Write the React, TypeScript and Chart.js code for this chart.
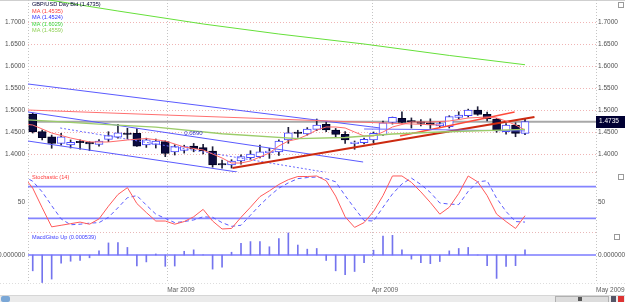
import React, { useEffect, useRef } from 'react';
import { Chart, registerables } from 'chart.js';

Chart.register(...registerables);

const FONT = "'Liberation Sans Narrow', 'Liberation Sans', Arial, sans-serif";
const AXIS_COLOR = '#505050';

// ---------- x layout (trading-day index) ----------
const xMin = -0.5;
const xMax = 59.5;
const xGridPos = [-0.5, 14.2, 35.8, 59.5];
const monthTickPos = [14.2, 35.8, 59.5];
const monthLabels = ['Mar 2009', 'Apr 2009', 'May 2009'];

// ---------- price panel ----------
const priceMin = 1.3591;
const priceMax = 1.75;
const priceTicks = [1.4, 1.45, 1.5, 1.55, 1.6, 1.65, 1.7];
const lastPrice = 1.4735;

const opens = [1.4909,1.4507,1.4393,1.4243,1.4205,1.4265,1.4250,1.4220,1.4333,1.4380,1.4450,1.4470,1.4205,1.4220,1.4280,1.4050,1.4080,1.4182,1.4144,1.4068,1.3755,1.3750,1.3840,1.3916,1.3940,1.4030,1.4050,1.4318,1.4470,1.4455,1.4560,1.4675,1.4545,1.4447,1.4236,1.4257,1.4318,1.4432,1.4720,1.4810,1.4740,1.4734,1.4711,1.4640,1.4620,1.4834,1.4870,1.5000,1.4902,1.4795,1.4507,1.4660,1.4470];
const highs = [1.4930,1.4545,1.4430,1.4470,1.4320,1.4320,1.4280,1.4330,1.4507,1.4675,1.4584,1.4580,1.4360,1.4340,1.4300,1.4210,1.4200,1.4240,1.4220,1.4166,1.3860,1.3870,1.3980,1.4075,1.4200,1.4130,1.4320,1.4606,1.4540,1.4600,1.4795,1.4735,1.4580,1.4507,1.4295,1.4360,1.4500,1.4750,1.4840,1.4960,1.4820,1.4780,1.4800,1.4740,1.4870,1.4960,1.5020,1.5075,1.4950,1.4810,1.4690,1.4710,1.4800];
const lows = [1.4477,1.4320,1.4130,1.4200,1.4136,1.4110,1.4075,1.4180,1.4280,1.4360,1.4340,1.4170,1.4150,1.4136,1.3940,1.3977,1.4020,1.4050,1.4000,1.3700,1.3680,1.3680,1.3770,1.3880,1.3910,1.3900,1.3970,1.4243,1.4380,1.4430,1.4530,1.4507,1.4380,1.4243,1.4107,1.4230,1.4250,1.4420,1.4680,1.4700,1.4590,1.4640,1.4580,1.4600,1.4590,1.4800,1.4840,1.4880,1.4750,1.4493,1.4450,1.4393,1.4440];
const closes = [1.4500,1.4370,1.4243,1.4393,1.4266,1.4255,1.4230,1.4295,1.4416,1.4484,1.4444,1.4180,1.4320,1.4295,1.4015,1.4166,1.4170,1.4114,1.4068,1.3750,1.3750,1.3840,1.3940,1.4000,1.4050,1.4030,1.4295,1.4484,1.4465,1.4568,1.4660,1.4545,1.4447,1.4318,1.4250,1.4334,1.4470,1.4711,1.4834,1.4720,1.4728,1.4697,1.4660,1.4690,1.4848,1.4886,1.5000,1.4902,1.4795,1.4523,1.4660,1.4470,1.4735];

// moving averages (index, value)
const maRedIdx = [-1,0,2,4,6,8,10,12,14,16,18,20,21,22,23,24,25,26,27,28,29,30,31,32,33,34,35,36,37,38,40,42,44,46,48,49,50,51,52];
const maRedVals = [1.468,1.4659,1.4477,1.4364,1.4273,1.4273,1.4318,1.4352,1.4295,1.4159,1.4091,1.3909,1.3795,1.3795,1.3841,1.3932,1.4023,1.4182,1.4295,1.4341,1.4432,1.4545,1.4614,1.4614,1.4591,1.45,1.4409,1.4409,1.45,1.4614,1.4727,1.4727,1.475,1.4818,1.4841,1.4818,1.475,1.4659,1.4545];
const maBlueIdx = [35,40,45,52];
const maBlueVals = [1.4568,1.456,1.4545,1.4524];
const maLongIdx = [-1,0,9,18,26,35,44,52];
const maLongVals = [1.76,1.756,1.725,1.6955,1.6727,1.65,1.624,1.6029];
const maMidIdx = [-1,0,7,13,20,28,33,38,43,52];
const maMidVals = [1.478,1.477,1.468,1.461,1.446,1.435,1.4375,1.4455,1.45,1.4559];

// trend lines [start index, end index] / [start price, end price]
const trendRedIdx = [-0.5, 43.0];
const trendRedVals = [1.5, 1.4659];
const trendSupportIdx = [21.1, 53.0];
const trendSupportVals = [1.3682, 1.4841];
const trendUpperIdx = [38.8, 50.9];
const trendUpperVals = [1.4409, 1.4955];
const chanAIdx = [-0.5, 36.7];
const chanAVals = [1.5591, 1.4591];
const chanBIdx = [-0.5, 34.9];
const chanBVals = [1.4955, 1.3818];
const chanCIdx = [-0.5, 21.6];
const chanCVals = [1.4295, 1.3591];
const dottedIdx = [2.9, 31.4];
const dottedVals = [1.4591, 1.3568];
const fiboLabel = '0.0890';
const fiboLabelAt = [16.0, 1.4466];

const legendLines = [
  { text: 'GBP/USD Day Bid (1.4735)', color: '#000033' },
  { text: 'MA (1.4535)', color: '#ff3b3b' },
  { text: 'MA (1.4524)', color: '#2f2fff' },
  { text: 'MA (1.6029)', color: '#3ad43a' },
  { text: 'MA (1.4559)', color: '#8fcf55' },
];

// ---------- stochastic panel ----------
const stochStart = -1;
const stochK = [100,77,40,4,7,10,13,9,19,43,65,78,48,31,15,15,9,14,23,37,15,0,1,22,41,61,72,84,93,99,99,100,91,62,23,3,12,33,63,100,100,88,70,50,28,41,67,100,89,63,28,14,1,25];
const stochD = [100,90,70,44,19,8,9,11,12,22,40,59,63,45,28,20,12,14,17,23,22,12,5,7,26,45,62,77,87,95,97,98,95,89,63,39,16,15,41,66,85,96,84,69,49,47,46,71,89,91,58,33,14,13];
const stochLevels = [20, 80];
const stochTicks = [50];
const stochMin = -5.7;
const stochMax = 107.5;

// ---------- MACD histogram ----------
const macdHist = [-0.00165,-0.00287,-0.00251,-0.00086,-0.00065,-0.00057,-0.00029,0.00043,0.00126,0.00129,0.00079,-0.00115,-0.00072,0.00011,-0.00118,-0.00115,0.00039,0.00054,0.00003,-0.00147,-0.00126,0.00029,0.00122,0.0014,0.0014,0.00086,0.00172,0.0023,0.00104,0.00061,0.00068,-0.00057,-0.00165,-0.00205,-0.00172,-0.00079,0.0005,0.00197,0.00205,0.00054,-0.00043,-0.00079,-0.0009,-0.00068,0.00043,0.00068,0.00079,0,-0.00111,-0.00244,-0.00118,-0.00111,0.000539];
const macdMin = -0.00292;
const macdMax = 0.0024;
const macdTicks = [0];

// ---------- helpers ----------
const pts = (idx: number[], vals: number[]) => idx.map((x, k) => ({ x, y: vals[k] }));

const lineDs = (idx: number[], vals: number[], color: string, width: number, dash: number[] = [], order = 1) => ({
  type: 'line' as const,
  data: pts(idx, vals),
  borderColor: color,
  borderWidth: width,
  borderDash: dash,
  pointRadius: 0,
  tension: 0,
  fill: false,
  order,
});

const zeroPad = (s: any) => {
  s.paddingTop = 0;
  s.paddingBottom = 0;
  s.paddingLeft = 0;
  s.paddingRight = 0;
};

const xScale = (height: number, showLabels: boolean) => ({
  type: 'linear' as const,
  position: 'bottom' as const,
  min: xMin,
  max: xMax,
  offset: false,
  afterBuildTicks: (s: any) => {
    s.ticks = (showLabels ? monthTickPos : xGridPos).map((v) => ({ value: v }));
  },
  afterFit: (s: any) => {
    s.height = height;
    zeroPad(s);
  },
  ticks: {
    display: showLabels,
    autoSkip: false,
    maxRotation: 0,
    minRotation: 0,
    align: 'start' as const,
    padding: 3,
    color: '#606060',
    font: { family: FONT, size: 6.5 },
    callback: (v: any) => {
      const k = monthTickPos.indexOf(Number(v));
      return k >= 0 ? monthLabels[k] : '';
    },
  },
  grid: { display: false, drawTicks: false, offset: false },
  border: { display: false },
});

const yScale = (pos: 'left' | 'right', min: number, max: number, ticks: number[], fmt: (v: number) => string) => ({
  type: 'linear' as const,
  position: pos,
  min,
  max,
  afterBuildTicks: (s: any) => {
    s.ticks = ticks.map((v) => ({ value: v }));
  },
  afterFit: (s: any) => {
    s.width = pos === 'left' ? 28 : 29;
    zeroPad(s);
  },
  ticks: {
    padding: pos === 'left' ? 3 : 2,
    color: AXIS_COLOR,
    font: { family: FONT, size: 6.5 },
    callback: (v: any) => fmt(Number(v)),
  },
  grid: { display: false, drawTicks: false },
  border: { display: false },
});

const dotted = (ctx: CanvasRenderingContext2D, x1: number, y1: number, x2: number, y2: number, color: string) => {
  ctx.save();
  ctx.strokeStyle = color;
  ctx.lineWidth = 1;
  ctx.setLineDash([1, 2]);
  ctx.beginPath();
  ctx.moveTo(x1, y1);
  ctx.lineTo(x2, y2);
  ctx.stroke();
  ctx.restore();
};

const vGrid = (chart: any) => {
  const { ctx, chartArea: a, scales } = chart;
  for (const v of xGridPos) {
    const x = Math.round(scales.x.getPixelForValue(v)) + 0.5;
    dotted(ctx, x, a.top, x, a.bottom, '#c4c4c4');
  }
};

const icon = (ctx: CanvasRenderingContext2D, x: number, y: number) => {
  ctx.save();
  ctx.strokeStyle = '#9a9a9a';
  ctx.lineWidth = 1;
  ctx.strokeRect(x + 0.5, y + 0.5, 5, 5);
  ctx.restore();
};

const baseOptions = {
  responsive: false,
  animation: false as const,
  events: [] as any[],
  layout: { padding: 0, autoPadding: false },
  plugins: { legend: { display: false }, tooltip: { enabled: false } },
};

export default function App() {
  const priceRef = useRef<HTMLCanvasElement>(null);
  const stochRef = useRef<HTMLCanvasElement>(null);
  const macdRef = useRef<HTMLCanvasElement>(null);

  useEffect(() => {
    const idx = opens.map((_, i) => i);
    const up = (i: number) => closes[i] >= opens[i];

    // ----- price chart -----
    const pricePlugin = {
      id: 'pricePlugin',
      beforeDatasetsDraw(chart: any) {
        const { ctx, chartArea: a, scales } = chart;
        for (const t of priceTicks) {
          const y = Math.round(scales.y.getPixelForValue(t)) + 0.5;
          dotted(ctx, a.left, y, a.right, y, '#f0b4b4');
        }
        vGrid(chart);
      },
      afterDraw(chart: any) {
        const { ctx, scales } = chart;
        ctx.save();
        ctx.font = `5.6px ${FONT}`;
        ctx.textBaseline = 'middle';
        ctx.textAlign = 'left';
        legendLines.forEach((l, k) => {
          ctx.fillStyle = l.color;
          ctx.fillText(l.text, 32, 4.5 + k * 6.5);
        });
        // fibo label
        ctx.fillStyle = '#3a3acc';
        ctx.font = `6px ${FONT}`;
        ctx.fillText(fiboLabel, scales.x.getPixelForValue(fiboLabelAt[0]), scales.y.getPixelForValue(fiboLabelAt[1]));
        // last price box
        const py = scales.y.getPixelForValue(lastPrice);
        ctx.fillStyle = '#000033';
        ctx.fillRect(596, Math.round(py) - 6, 29, 12);
        ctx.fillStyle = '#ffffff';
        ctx.font = `6.5px ${FONT}`;
        ctx.fillText(lastPrice.toFixed(4), 599, py);
        ctx.restore();
        icon(ctx, 618, 2);
      },
    };

    const priceChart = new Chart(priceRef.current as HTMLCanvasElement, {
      type: 'bar',
      data: {
        datasets: [
          lineDs([xMin, xMax], [lastPrice, lastPrice], '#a8a8a8', 2, [], 6),
          lineDs(maLongIdx, maLongVals, '#66e03a', 1),
          lineDs(maMidIdx, maMidVals, '#9ccc6a', 1.3),
          lineDs(maRedIdx, maRedVals, '#ff6a6a', 1),
          lineDs(maBlueIdx, maBlueVals, '#6a6aff', 1),
          lineDs(trendRedIdx, trendRedVals, '#ff7070', 1.2),
          lineDs(trendSupportIdx, trendSupportVals, '#cc2a10', 2),
          lineDs(trendUpperIdx, trendUpperVals, '#ff4a3a', 1.4),
          lineDs(chanAIdx, chanAVals, '#5a5aff', 1),
          lineDs(chanBIdx, chanBVals, '#5a5aff', 1),
          lineDs(chanCIdx, chanCVals, '#5a5aff', 1),
          lineDs(dottedIdx, dottedVals, '#6a6aff', 1, [2, 2]),
          {
            type: 'bar' as const,
            data: idx.map((i) => ({ x: i, y: [opens[i], closes[i]] })),
            backgroundColor: idx.map((i) => (up(i) ? '#ffffff' : '#0b0b3e')),
            borderColor: idx.map((i) => (up(i) ? '#4a4aff' : '#000020')),
            borderWidth: 1,
            borderSkipped: false,
            barThickness: 8,
            minBarLength: 1.5,
            grouped: false,
            order: 4,
          } as any,
          {
            type: 'bar' as const,
            data: idx.map((i) => ({ x: i, y: [lows[i], highs[i]] })),
            backgroundColor: '#20203a',
            borderWidth: 0,
            barThickness: 1,
            grouped: false,
            order: 5,
          } as any,
        ],
      },
      options: {
        ...baseOptions,
        scales: {
          x: xScale(0, false),
          y: yScale('left', priceMin, priceMax, priceTicks, (v) => v.toFixed(4)),
          y2: yScale('right', priceMin, priceMax, priceTicks, (v) => v.toFixed(4)),
        },
      } as any,
      plugins: [pricePlugin],
    });

    // ----- stochastic chart -----
    const stochIdx = stochK.map((_, k) => k + stochStart);
    const stochPlugin = {
      id: 'stochPlugin',
      beforeDatasetsDraw(chart: any) {
        const { ctx, chartArea: a } = chart;
        vGrid(chart);
        dotted(ctx, a.left, 0.5, a.right, 0.5, '#e8b8b8');
      },
      afterDraw(chart: any) {
        const { ctx } = chart;
        ctx.save();
        ctx.font = `5.6px ${FONT}`;
        ctx.textBaseline = 'middle';
        ctx.fillStyle = '#ff3b3b';
        ctx.fillText('Stochastic (14)', 32, 5);
        ctx.restore();
        icon(ctx, 618, 2);
      },
    };
    const stochChart = new Chart(stochRef.current as HTMLCanvasElement, {
      type: 'line',
      data: {
        datasets: [
          lineDs(stochIdx, stochK, '#ff5a5a', 1),
          lineDs(stochIdx, stochD, '#5a5aff', 1, [4, 3]),
          ...stochLevels.map((lv) => lineDs([xMin, xMax], [lv, lv], '#8484ff', 1.6, [], 3)),
        ],
      },
      options: {
        ...baseOptions,
        scales: {
          x: xScale(0, false),
          y: yScale('left', stochMin, stochMax, stochTicks, (v) => String(v)),
          y2: yScale('right', stochMin, stochMax, stochTicks, (v) => String(v)),
        },
      } as any,
      plugins: [stochPlugin],
    });

    // ----- MACD chart -----
    const macdPlugin = {
      id: 'macdPlugin',
      beforeDatasetsDraw(chart: any) {
        const { ctx, chartArea: a, scales } = chart;
        vGrid(chart);
        dotted(ctx, a.left, 0.5, a.right, 0.5, '#e8b8b8');
        const y0 = scales.y.getPixelForValue(0);
        ctx.save();
        ctx.strokeStyle = '#9c9cff';
        ctx.lineWidth = 2;
        ctx.beginPath();
        ctx.moveTo(a.left, y0);
        ctx.lineTo(a.right, y0);
        ctx.stroke();
        ctx.restore();
        dotted(ctx, 0, a.bottom + 0.5, 625, a.bottom + 0.5, '#dddddd');
      },
      afterDraw(chart: any) {
        const { ctx } = chart;
        ctx.save();
        ctx.font = `5.6px ${FONT}`;
        ctx.textBaseline = 'middle';
        ctx.fillStyle = '#3a3aff';
        ctx.fillText(`MacdGisto Up (${macdHist[macdHist.length - 1].toFixed(6)})`, 32, 5);
        ctx.restore();
        icon(ctx, 614, 2);
      },
    };
    const macdChart = new Chart(macdRef.current as HTMLCanvasElement, {
      type: 'bar',
      data: {
        datasets: [
          {
            data: idx.map((i) => ({ x: i, y: macdHist[i] })),
            backgroundColor: '#7474ee',
            borderWidth: 0,
            barThickness: 1,
            grouped: false,
          } as any,
        ],
      },
      options: {
        ...baseOptions,
        scales: {
          x: xScale(11, true),
          y: yScale('left', macdMin, macdMax, macdTicks, (v) => v.toFixed(6)),
          y2: yScale('right', macdMin, macdMax, macdTicks, (v) => v.toFixed(6)),
        },
      } as any,
      plugins: [macdPlugin],
    });

    return () => {
      priceChart.destroy();
      stochChart.destroy();
      macdChart.destroy();
    };
  }, []);

  const abs = (top: number, height: number): React.CSSProperties => ({
    position: 'absolute',
    left: 0,
    top,
    width: 625,
    height,
    display: 'block',
  });

  return (
    <div style={{ position: 'fixed', left: 0, top: 0, width: 625, height: 302, background: '#ffffff', overflow: 'hidden' }}>
      <div style={{ position: 'absolute', left: 0, top: 0, width: 625, height: 1, background: '#cfcfcf' }} />
      <canvas ref={priceRef} width={625} height={172} style={abs(0, 172)} />
      <canvas ref={stochRef} width={625} height={60} style={abs(172, 60)} />
      <canvas ref={macdRef} width={625} height={62} style={abs(232, 62)} />
      <div style={{ position: 'absolute', left: 0, top: 295, width: 625, height: 7, background: '#ebebeb', borderTop: '1px solid #d6d6d6' }} />
      <div style={{ position: 'absolute', left: 1, top: 296, width: 9, height: 6, background: '#7aa7d6', borderRadius: 2 }} />
      <div style={{ position: 'absolute', left: 555, top: 296, width: 52, height: 5, background: '#dcdcdc', border: '1px solid #b0b0b0' }} />
      <div style={{ position: 'absolute', left: 578, top: 297, width: 4, height: 4, background: '#555' }} />
      <div style={{ position: 'absolute', left: 611, top: 296, width: 5, height: 6, background: '#556' }} />
      <div style={{ position: 'absolute', left: 618, top: 296, width: 6, height: 6, background: '#d33' }} />
    </div>
  );
}
